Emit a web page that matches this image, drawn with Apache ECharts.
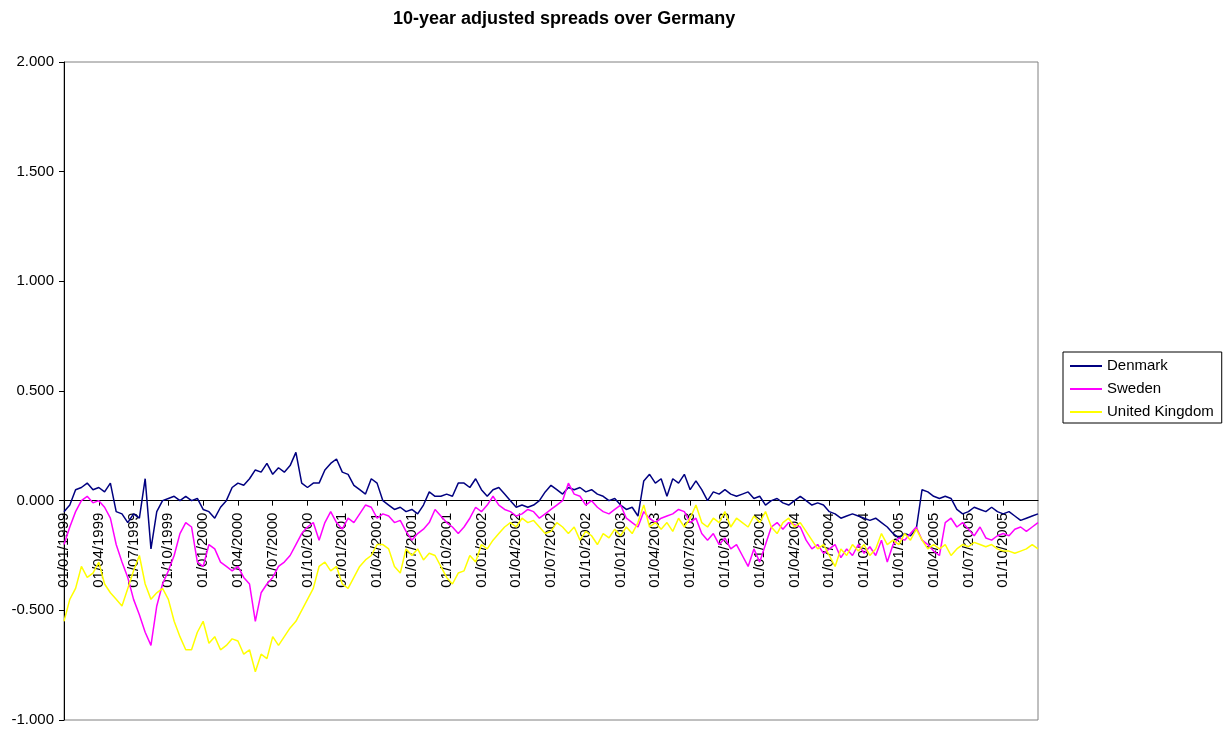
<!DOCTYPE html>
<html>
<head>
<meta charset="utf-8">
<script src="https://cdn.jsdelivr.net/npm/echarts@6/dist/echarts.min.js"></script>
<style>
  html, body { margin: 0; padding: 0; background: #fff; }
  #chart { width: 1230px; height: 731px; }
</style>
</head>
<body>
<div id="chart"></div>
<script>
// half-monthly readings, 01/01/1999 .. end of 2005
var years = [1999, 2000, 2001, 2002, 2003, 2004, 2005];
var days = ['01', '16'];
var lastDate = '30/12/2005';

var denmark = [
  -0.05, -0.02, 0.05, 0.06, 0.08, 0.05, 0.06, 0.04, 0.08, -0.05, -0.06, -0.1, -0.06, -0.08, 0.1, -0.22, -0.05, 0.0, 0.01, 0.02, 0.0, 0.02,
  0.0, 0.01, -0.04, -0.05, -0.08, -0.03, 0.0, 0.06, 0.08, 0.07, 0.1, 0.14, 0.13, 0.17, 0.12, 0.15, 0.13, 0.16, 0.22, 0.08, 0.06, 0.08,
  0.08, 0.14, 0.17, 0.19, 0.13, 0.12, 0.07, 0.05, 0.03, 0.1, 0.08, 0.0, -0.02, -0.04, -0.03, -0.05, -0.04, -0.06, -0.02, 0.04, 0.02,
  0.02, 0.03, 0.02, 0.08, 0.08, 0.06, 0.1, 0.05, 0.02, 0.05, 0.06, 0.03, 0.0, -0.03, -0.02, -0.03, -0.02, 0.0, 0.04, 0.07, 0.05, 0.03,
  0.06, 0.05, 0.06, 0.04, 0.05, 0.03, 0.02, 0.0, 0.01, -0.02, -0.04, -0.03, -0.07, 0.09, 0.12, 0.08, 0.1, 0.02, 0.1, 0.08, 0.12,
  0.05, 0.09, 0.05, 0.0, 0.04, 0.03, 0.05, 0.03, 0.02, 0.03, 0.04, 0.01, 0.02, -0.02, 0.0, 0.01, -0.01, -0.02, 0.0, 0.02, 0.0, -0.02,
  -0.01, -0.02, -0.05, -0.06, -0.08, -0.07, -0.06, -0.07, -0.08, -0.09, -0.08, -0.1, -0.12, -0.15, -0.17, -0.15, -0.16, -0.13, 0.05, 0.04, 0.02,
  0.01, 0.02, 0.01, -0.04, -0.06, -0.05, -0.03, -0.04, -0.05, -0.03, -0.05, -0.06, -0.05, -0.07, -0.09, -0.08, -0.07, -0.06
];
var sweden = [
  -0.2, -0.12, -0.05, 0.0, 0.02, -0.01, 0.0, -0.03, -0.08, -0.2, -0.28, -0.35, -0.45, -0.52, -0.6, -0.66, -0.48, -0.38, -0.32, -0.25, -0.15, -0.1,
  -0.12, -0.28, -0.3, -0.2, -0.22, -0.28, -0.3, -0.32, -0.3, -0.35, -0.38, -0.55, -0.42, -0.38, -0.35, -0.3, -0.28, -0.25, -0.2, -0.15, -0.12, -0.1,
  -0.18, -0.1, -0.05, -0.1, -0.13, -0.08, -0.1, -0.06, -0.02, -0.03, -0.08, -0.06, -0.07, -0.1, -0.09, -0.14, -0.18, -0.15, -0.13, -0.1, -0.04,
  -0.07, -0.1, -0.12, -0.15, -0.12, -0.08, -0.03, -0.05, -0.02, 0.02, -0.02, -0.04, -0.05, -0.07, -0.06, -0.04, -0.05, -0.08, -0.06, -0.04, -0.02, 0.0,
  0.08, 0.03, 0.02, -0.02, 0.0, -0.03, -0.05, -0.06, -0.04, -0.02, -0.08, -0.1, -0.12, -0.05, -0.08, -0.1, -0.08, -0.07, -0.06, -0.04, -0.05,
  -0.1, -0.08, -0.15, -0.18, -0.15, -0.2, -0.17, -0.22, -0.2, -0.25, -0.3, -0.22, -0.28, -0.2, -0.12, -0.1, -0.13, -0.1, -0.11, -0.12, -0.18, -0.22,
  -0.2, -0.24, -0.22, -0.2, -0.26, -0.22, -0.25, -0.2, -0.24, -0.21, -0.25, -0.18, -0.28, -0.2, -0.17, -0.18, -0.15, -0.12, -0.18, -0.2, -0.23,
  -0.25, -0.1, -0.08, -0.12, -0.1, -0.13, -0.16, -0.12, -0.17, -0.18, -0.16, -0.15, -0.16, -0.13, -0.12, -0.14, -0.12, -0.1
];
var unitedKingdom = [
  -0.55, -0.45, -0.4, -0.3, -0.35, -0.33, -0.28, -0.38, -0.42, -0.45, -0.48, -0.4, -0.32, -0.25, -0.38, -0.45, -0.42, -0.4, -0.45, -0.55, -0.62, -0.68,
  -0.68, -0.6, -0.55, -0.65, -0.62, -0.68, -0.66, -0.63, -0.64, -0.7, -0.68, -0.78, -0.7, -0.72, -0.62, -0.66, -0.62, -0.58, -0.55, -0.5, -0.45, -0.4,
  -0.3, -0.28, -0.32, -0.3, -0.38, -0.4, -0.35, -0.3, -0.27, -0.25, -0.2, -0.2, -0.22, -0.3, -0.33, -0.22, -0.25, -0.22, -0.27, -0.24, -0.25,
  -0.3, -0.35, -0.38, -0.33, -0.32, -0.25, -0.28, -0.2, -0.22, -0.18, -0.15, -0.12, -0.1, -0.12, -0.08, -0.1, -0.09, -0.12, -0.15, -0.14, -0.1, -0.12,
  -0.15, -0.12, -0.18, -0.14, -0.16, -0.2, -0.15, -0.17, -0.13, -0.16, -0.12, -0.15, -0.1, -0.02, -0.12, -0.1, -0.13, -0.1, -0.14, -0.08, -0.12,
  -0.08, -0.02, -0.1, -0.12, -0.08, -0.1, -0.05, -0.12, -0.08, -0.1, -0.12, -0.07, -0.1, -0.05, -0.12, -0.15, -0.1, -0.08, -0.12, -0.1, -0.14, -0.18,
  -0.22, -0.2, -0.25, -0.3, -0.22, -0.25, -0.2, -0.23, -0.2, -0.25, -0.22, -0.15, -0.2, -0.18, -0.2, -0.15, -0.18, -0.13, -0.18, -0.22, -0.2,
  -0.22, -0.2, -0.25, -0.22, -0.2, -0.21, -0.19, -0.2, -0.21, -0.2, -0.22, -0.23, -0.23, -0.24, -0.23, -0.22, -0.2, -0.22
];

var dates = [];
years.forEach(function (y) {
  for (var m = 1; m <= 12; m++) {
    days.forEach(function (d) {
      dates.push(d + '/' + (m < 10 ? '0' + m : m) + '/' + y);
    });
  }
});
dates.push(lastDate);

// only show 1st of Jan/Apr/Jul/Oct
function quarterStart(idx) {
  return idx % 6 === 0 && idx < dates.length - 1;
}

var font = 'Liberation Sans, Arial, sans-serif';
var gridTop = 62, gridBottom = 11, plotH = 731 - gridTop - gridBottom;
var yMin = -1, yMax = 2;
// move the category axis (line, ticks, labels) up to y = 0
var zeroOffset = plotH * (0 - yMin) / (yMax - yMin);

var myChart = echarts.init(document.getElementById('chart'));

var option = {
  animation: false,
  title: {
    text: '10-year adjusted spreads over Germany',
    left: 388,
    top: 5,
    textStyle: { fontFamily: font, fontSize: 18, fontWeight: 'bold', color: '#000' }
  },
  legend: {
    orient: 'vertical',
    left: 1063,
    top: 352,
    padding: [6, 8, 3, 7],
    itemGap: 7,
    itemWidth: 32,
    itemHeight: 2,
    icon: 'rect',
    borderColor: '#000',
    borderWidth: 1,
    textStyle: { fontFamily: font, fontSize: 15, color: '#000', lineHeight: 16 },
    data: ['Denmark', 'Sweden', 'United Kingdom']
  },
  grid: {
    left: 64, right: 192, top: gridTop, bottom: gridBottom,
    outerBoundsMode: 'none',
    show: true, borderColor: '#808080', borderWidth: 1
  },
  xAxis: {
    type: 'category',
    data: dates,
    boundaryGap: false,
    offset: -zeroOffset,
    axisLine: { onZero: false, lineStyle: { color: '#000', width: 1 } },
    axisTick: { interval: quarterStart, length: 5, lineStyle: { color: '#000' } },
    axisLabel: {
      interval: quarterStart, rotate: 90, margin: 12,
      fontFamily: font, fontSize: 15, color: '#000'
    },
    splitLine: { show: false }
  },
  yAxis: {
    type: 'value',
    min: yMin, max: yMax, interval: 0.5,
    axisLine: { show: true, lineStyle: { color: '#000', width: 1 } },
    axisTick: { show: true, length: 5, lineStyle: { color: '#000' } },
    axisLabel: {
      margin: 10, fontFamily: font, fontSize: 15, color: '#000',
      formatter: function (v) { return v.toFixed(3); }
    },
    splitLine: { show: false }
  },
  series: [
    { name: 'Denmark', type: 'line', data: denmark, symbol: 'none', lineStyle: { color: '#000080', width: 1.5 }, itemStyle: { color: '#000080' } },
    { name: 'Sweden', type: 'line', data: sweden, symbol: 'none', lineStyle: { color: '#ff00ff', width: 1.5 }, itemStyle: { color: '#ff00ff' } },
    { name: 'United Kingdom', type: 'line', data: unitedKingdom, symbol: 'none', lineStyle: { color: '#ffff00', width: 1.5 }, itemStyle: { color: '#ffff00' } }
  ]
};

myChart.setOption(option);
</script>
</body>
</html>
